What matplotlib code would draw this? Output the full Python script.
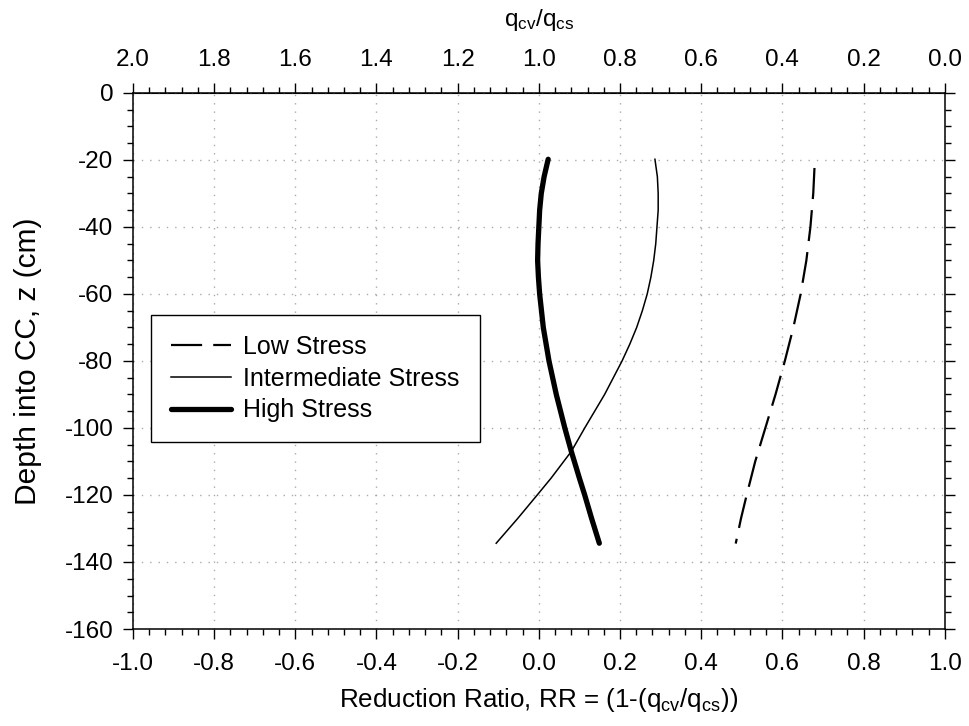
import matplotlib
matplotlib.use("Agg")
import matplotlib.pyplot as plt
import numpy as np
from matplotlib.ticker import MultipleLocator

plt.rcParams['font.family'] = ['Liberation Sans', 'DejaVu Sans']
plt.rcParams['mathtext.fontset'] = 'custom'
plt.rcParams['mathtext.rm'] = 'Liberation Sans'
plt.rcParams['mathtext.default'] = 'regular'

# depth (cm) and reduction ratio
z_low = [-22.4, -30, -40, -50, -60, -70, -80, -90, -100, -110, -120, -127, -134.5]
rr_low = [0.679, 0.676, 0.669, 0.659, 0.645, 0.627, 0.606, 0.583, 0.558, 0.533, 0.512, 0.498, 0.485]

z_mid = [-19.8, -25, -30, -35, -40, -45, -50, -55, -60, -65, -70, -75, -80, -90,
         -100, -107, -115, -120, -127, -134.4]
rr_mid = [0.286, 0.292, 0.294, 0.294, 0.291, 0.288, 0.283, 0.276, 0.267, 0.255, 0.241,
          0.224, 0.205, 0.162, 0.113, 0.080, 0.030, -0.004, -0.052, -0.105]

z_high = [-19.8, -25, -30, -35, -40, -45, -50, -55, -60, -70, -80, -90, -100, -107,
          -115, -120, -127, -134.4]
rr_high = [0.023, 0.013, 0.006, 0.002, 0.000, -0.002, -0.003, -0.001, 0.002, 0.011,
           0.025, 0.043, 0.064, 0.080, 0.100, 0.113, 0.130, 0.149]

fig = plt.figure(figsize=(9.7, 7.26), dpi=100)
ax = fig.add_axes([0.137, 0.1336, 0.837, 0.7384])

ax.plot(rr_low, z_low, color='black', lw=1.6, linestyle=(0, (14, 5)), label='Low Stress')
ax.plot(rr_mid, z_mid, color='black', lw=1.1, label='Intermediate Stress')
ax.plot(rr_high, z_high, color='black', lw=3.8, solid_capstyle='round', label='High Stress')

ax.set_xlim(-1.0, 1.0)
ax.set_ylim(-160, 0)
ax.xaxis.set_major_locator(MultipleLocator(0.2))
ax.xaxis.set_minor_locator(MultipleLocator(0.04))
ax.yaxis.set_major_locator(MultipleLocator(20))
ax.yaxis.set_minor_locator(MultipleLocator(5))
ax.xaxis.set_major_formatter(matplotlib.ticker.FormatStrFormatter('%.1f'))
ax.yaxis.set_major_formatter(matplotlib.ticker.FuncFormatter(lambda v, p: '%d' % v))

ax.tick_params(which='both', direction='out', labelsize=17.5, color='black',
               left=True, right=True, top=False, bottom=True)
ax.tick_params(axis='y', pad=7)
ax.tick_params(axis='x', pad=10)
ax.tick_params(which='major', length=7, width=1)
ax.tick_params(which='minor', length=4, width=1)
for s in ax.spines.values():
    s.set_linewidth(1.1)

ax.grid(True, which='major', linestyle=(0, (1, 5)), color='#aaaaaa', linewidth=1)

ax.set_xlabel('Reduction Ratio, RR = (1-($q_{cv}$/$q_{cs}$))', fontsize=18.7, labelpad=8)
ax.set_ylabel('Depth into CC, z (cm)', fontsize=21.5, labelpad=16)

top = ax.secondary_xaxis('top', functions=(lambda x: 1 - x, lambda x: 1 - x))
top.xaxis.set_major_locator(MultipleLocator(0.2))
top.xaxis.set_minor_locator(MultipleLocator(0.04))
top.xaxis.set_major_formatter(matplotlib.ticker.FormatStrFormatter('%.1f'))
top.tick_params(which='both', direction='out', labelsize=17.5, pad=9)
top.tick_params(which='major', length=7, width=1)
top.tick_params(which='minor', length=4, width=1)
top.set_xlabel('$q_{cv}$/$q_{cs}$', fontsize=17.5, labelpad=16)

leg = ax.legend(loc='upper left', bbox_to_anchor=(0.022, 0.586), borderaxespad=0,
                fontsize=18, frameon=True, fancybox=False, edgecolor='black',
                framealpha=1, handlelength=2.4, handletextpad=0.5,
                borderpad=0.8, labelspacing=0.31)
leg.get_frame().set_linewidth(1.0)

fig.savefig('out.png', dpi=100)
